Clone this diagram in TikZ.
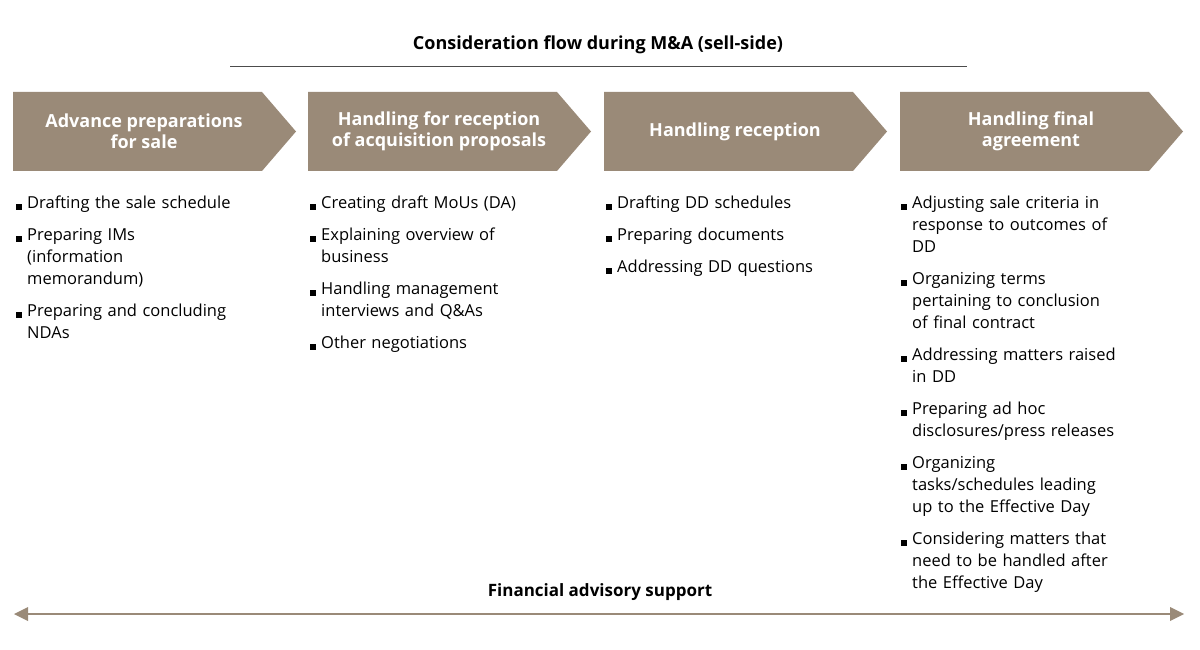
\documentclass[tikz,border=0pt]{standalone}
\usepackage{fontspec}
\setmainfont{Open Sans}
\definecolor{brn}{HTML}{9A8A78}
\begin{document}
\begin{tikzpicture}[x=1pt,y=-1pt,
 chev/.style={fill=brn,draw=none},
 ctext/.style={text=white,font=\fontsize{18}{21}\selectfont\bfseries,align=center},
 itm/.style={anchor=north west,inner sep=0pt,font=\fontsize{16.5}{22}\selectfont,align=left,text width=240pt},
 bl/.style={fill=black,minimum size=6pt,inner sep=0pt}]
\useasboundingbox (0,0) rectangle (1200,650);
\node[font=\fontsize{18}{21}\selectfont\bfseries] (title) at (598,45) {Consideration flow during M\&A (sell-side)};
\draw[black!70,line width=0.8pt] (230,66) -- (967,66);
\foreach \i/\x/\t in {1/13/{Advance preparations\\for sale},2/308/{Handling for reception\\of acquisition proposals},3/604/{Handling reception},4/900/{Handling final\\agreement}}{
 \fill[chev] (\x,92) -- (\x+249,92) -- (\x+283,131.5) -- (\x+249,171) -- (\x,171) -- cycle;
 \node[ctext] (c\i) at (\x+131,131.5) {\t};
}
% items
\newcommand{\itmM}[4]{\node[bl] (b#1) at (#2-8,#3+7) {};\node[itm] (t#1) at (#2,#3-4) {#4};}
\itmM{a1}{27}{200}{Drafting the sale schedule}
\itmM{a2}{27}{232}{Preparing IMs\\(information\\memorandum)}
\itmM{a3}{27}{308}{Preparing and concluding\\NDAs}
\itmM{b1}{321}{200}{Creating draft MoUs (DA)}
\itmM{b2}{321}{232}{Explaining overview of\\business}
\itmM{b3}{321}{286}{Handling management\\interviews and Q\&As}
\itmM{b4}{321}{340}{Other negotiations}
\itmM{c1}{617}{200}{Drafting DD schedules}
\itmM{c2}{617}{232}{Preparing documents}
\itmM{c3}{617}{264}{Addressing DD questions}
\itmM{d1}{912}{200}{Adjusting sale criteria in\\response to outcomes of\\DD}
\itmM{d2}{912}{276}{Organizing terms\\pertaining to conclusion\\of final contract}
\itmM{d3}{912}{352}{Addressing matters raised\\in DD}
\itmM{d4}{912}{406}{Preparing ad hoc\\disclosures/press releases}
\itmM{d5}{912}{460}{Organizing\\tasks/schedules leading\\up to the Effective Day}
\itmM{d6}{912}{536}{Considering matters that\\need to be handled after\\the Effective Day}
\node[font=\fontsize{17}{21}\selectfont\bfseries] (fas) at (600,592) {Financial advisory support};
\coordinate (l) at (14,614); \coordinate (r) at (1184,614);
\draw[brn,line width=1.6pt] (28,614) -- (1170,614);
\fill[brn] (l) -- ++(14,-7) -- ++(0,14) -- cycle;
\fill[brn] (r) -- ++(-14,-7) -- ++(0,14) -- cycle;
\end{tikzpicture}
\end{document}
